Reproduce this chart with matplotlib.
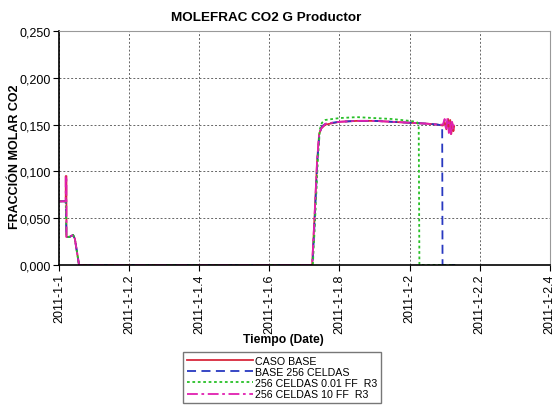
import matplotlib.pyplot as plt

plt.rcParams['font.family'] = ['Liberation Sans', 'DejaVu Sans']

# x in days (1.0 = 2011-1-1), y = CO2 mole fraction
caso_x = [1.0, 1.019, 1.019, 1.021, 1.021, 1.024, 1.030, 1.040, 1.045, 1.057, 1.075,
          1.722, 1.728, 1.736, 1.742, 1.748, 1.76, 1.80, 1.85, 1.90, 1.95, 2.00, 2.05,
          2.08, 2.095, 2.10, 2.105, 2.11, 2.113, 2.116, 2.119, 2.122, 2.125, 2.127]
caso_y = [0.068, 0.068, 0.095, 0.095, 0.030, 0.030, 0.030, 0.032, 0.028, 0.0, 0.0,
          0.0, 0.045, 0.110, 0.140, 0.146, 0.150, 0.153, 0.154, 0.154, 0.153, 0.152, 0.151,
          0.150, 0.149, 0.153, 0.145, 0.156, 0.142, 0.155, 0.140, 0.152, 0.143, 0.148]

base256_x = [1.0, 1.019, 1.021, 1.024, 1.030, 1.040, 1.045, 1.057, 1.075,
             1.723, 1.729, 1.737, 1.743, 1.75, 1.76, 1.80, 1.85, 1.90, 1.95, 2.00, 2.05,
             2.08, 2.093, 2.094, 2.13]
base256_y = [0.068, 0.068, 0.030, 0.030, 0.030, 0.032, 0.028, 0.0, 0.0,
             0.0, 0.045, 0.112, 0.141, 0.148, 0.151, 0.153, 0.154, 0.154, 0.153, 0.152, 0.151,
             0.150, 0.149, 0.0, 0.0]

ff001_x = [1.0, 1.019, 1.021, 1.024, 1.030, 1.040, 1.045, 1.057, 1.075,
           1.724, 1.730, 1.738, 1.744, 1.75, 1.76, 1.80, 1.85, 1.90, 1.95, 2.00, 2.02,
           2.026, 2.028, 2.13]
ff001_y = [0.068, 0.068, 0.030, 0.030, 0.030, 0.032, 0.028, 0.0, 0.0,
           0.0, 0.045, 0.110, 0.145, 0.152, 0.155, 0.157, 0.158, 0.157, 0.156, 0.154, 0.153,
           0.150, 0.0, 0.0]

ff10_x = [1.0, 1.019, 1.019, 1.021, 1.021, 1.024, 1.030, 1.040, 1.045, 1.057, 1.075,
          1.722, 1.728, 1.736, 1.742, 1.748, 1.76, 1.80, 1.85, 1.90, 1.95, 2.00, 2.05,
          2.08, 2.095, 2.10, 2.104, 2.108, 2.112, 2.115, 2.118, 2.121, 2.124, 2.127]
ff10_y = [0.068, 0.068, 0.095, 0.095, 0.030, 0.030, 0.030, 0.032, 0.028, 0.0, 0.0,
          0.0, 0.045, 0.110, 0.140, 0.146, 0.151, 0.153, 0.154, 0.154, 0.153, 0.152, 0.151,
          0.150, 0.150, 0.156, 0.144, 0.157, 0.141, 0.154, 0.139, 0.153, 0.145, 0.150]

x_ticks = [1.0, 1.2, 1.4, 1.6, 1.8, 2.0, 2.2, 2.4]
x_labels = ['2011-1-1', '2011-1-1.2', '2011-1-1.4', '2011-1-1.6', '2011-1-1.8',
            '2011-1-2', '2011-1-2.2', '2011-1-2.4']
y_ticks = [0.0, 0.05, 0.10, 0.15, 0.20, 0.25]
y_labels = ['0,000', '0,050', '0,100', '0,150', '0,200', '0,250']

fig = plt.figure(figsize=(5.52, 4.06), dpi=100)
ax = fig.add_axes([0.107, 0.345, 0.889, 0.576])

ax.plot(caso_x, caso_y, color='#d8283c', lw=1.3, ls='-', label='CASO BASE')
ax.plot(base256_x, base256_y, color='#2838c0', lw=1.3, ls=(0, (5, 3)), label='BASE 256 CELDAS')
ax.plot(ff001_x, ff001_y, color='#28c028', lw=1.3, ls=(0, (1.5, 1.5)), label='256 CELDAS 0.01 FF  R3')
ax.plot(ff10_x, ff10_y, color='#e020b0', lw=1.3, ls=(0, (6, 2, 1.5, 2)), label='256 CELDAS 10 FF  R3')

ax.set_xlim(1.0, 2.4)
ax.set_ylim(0, 0.25)
ax.set_xticks(x_ticks)
ax.set_xticklabels(x_labels, rotation=90, fontsize=9)
ax.set_yticks(y_ticks)
ax.set_yticklabels(y_labels, fontsize=9)
ax.tick_params(length=4, width=0.8, pad=2)
ax.grid(True, ls=(0, (2, 2)), color='#666666', lw=0.7)
for s in ['top', 'right']:
    ax.spines[s].set_color('#999999')
ax.spines['left'].set_linewidth(1.2)
ax.spines['bottom'].set_linewidth(1.2)

fig.text(0.482, 0.955, 'MOLEFRAC CO2 G Productor', fontsize=9.7, fontweight='bold',
         ha='center', va='center')
ax.set_ylabel('FRACCIÓN MOLAR CO2', fontsize=9, fontweight='bold')
ax.yaxis.set_label_coords(-0.078, 0.465)
fig.text(0.513, 0.162, 'Tiempo (Date)', fontsize=8.7, fontweight='bold',
         ha='center', va='center')

fig.legend(loc='upper left', bbox_to_anchor=(0.332, 0.131), fontsize=7.7,
           handlelength=6.2, labelspacing=0.12, borderpad=0.35, handletextpad=0.2,
           frameon=True, fancybox=False, edgecolor='#555555', borderaxespad=0)

fig.savefig('out.png', dpi=100)
